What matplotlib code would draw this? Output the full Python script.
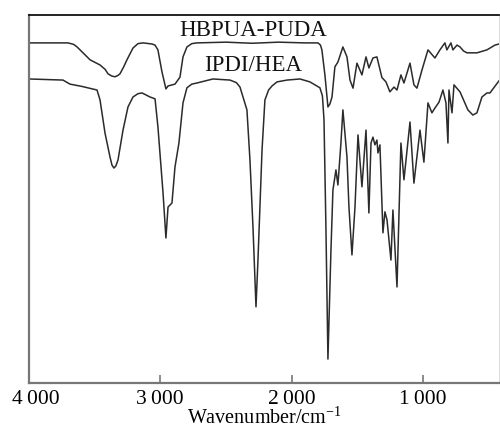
import matplotlib
matplotlib.use("Agg")
import matplotlib.pyplot as plt
import matplotlib.transforms as mtransforms

plt.rcParams['font.family'] = ['Liberation Serif', 'DejaVu Serif']
plt.rcParams['mathtext.fontset'] = 'custom'
plt.rcParams['mathtext.rm'] = 'Liberation Serif'
plt.rcParams['mathtext.it'] = 'Liberation Serif:italic'

# HBPUA-PUDA spectrum (wavenumber, transmittance-like units)
hb_wn = [4000, 3703, 3660, 3634, 3580, 3535, 3459, 3420, 3398, 3370, 3345, 3325,
         3307, 3280, 3254, 3208, 3170, 3132, 3063, 3040, 3018, 2987, 2957, 2941,
         2888, 2850, 2827, 2797, 2760, 2721, 2500, 2300, 2100, 1900, 1799, 1780,
         1769, 1746, 1723, 1708, 1692, 1670, 1647, 1609, 1578, 1555, 1532, 1502,
         1464, 1433, 1411, 1380, 1350, 1312, 1281, 1251, 1220, 1197, 1167, 1144,
         1098, 1068, 1045, 1007, 961, 908, 870, 832, 817, 786, 771, 740, 717, 690,
         664, 588, 512, 451, 420]
hb_t = [92.4, 92.4, 92.0, 91.3, 89.4, 87.8, 86.4, 85.2, 84.0, 83.4, 83.2, 83.5,
        84.0, 85.8, 87.8, 91.0, 92.2, 92.4, 92.1, 91.8, 90.5, 84.5, 79.9, 80.7,
        81.2, 83.1, 88.6, 91.3, 92.2, 92.4, 92.6, 92.3, 92.6, 92.4, 92.4, 91.8,
        90.5, 83.7, 75.0, 75.8, 77.7, 85.9, 87.2, 91.3, 88.6, 82.3, 80.1, 86.9,
        83.7, 88.6, 85.6, 88.3, 88.6, 83.0, 81.8, 79.1, 80.4, 79.6, 83.7, 81.5,
        86.9, 81.0, 80.1, 85.0, 90.5, 88.3, 90.5, 92.4, 90.5, 92.4, 90.5, 91.8,
        91.3, 90.2, 89.7, 89.7, 90.5, 91.8, 92.1]

# IPDI/HEA spectrum
ip_wn = [4000, 3741, 3688, 3600, 3482, 3459, 3421, 3383, 3368, 3353, 3338, 3322,
         3284, 3246, 3208, 3170, 3139, 3078, 3040, 3018, 2979, 2957, 2941, 2911,
         2888, 2858, 2827, 2797, 2760, 2721, 2599, 2469, 2420, 2393, 2340, 2317,
         2294, 2271, 2256, 2225, 2203, 2175, 2149, 2111, 2035, 1936, 1860, 1784,
         1765, 1753, 1738, 1723, 1700, 1685, 1662, 1647, 1624, 1609, 1578, 1563,
         1540, 1517, 1494, 1464, 1433, 1411, 1395, 1380, 1365, 1350, 1342, 1327,
         1304, 1289, 1273, 1243, 1228, 1197, 1167, 1144, 1098, 1068, 1022, 992,
         961, 931, 908, 877, 847, 824, 809, 801, 778, 763, 717, 657, 619, 588,
         550, 512, 489, 420]
ip_t = [82.6, 82.3, 81.2, 80.6, 79.6, 76.9, 67.9, 61.4, 59.2, 58.4, 59.0, 60.6,
        68.7, 75.0, 77.7, 78.6, 78.8, 77.7, 77.2, 69.6, 51.6, 39.4, 47.8, 48.9,
        58.7, 65.2, 76.1, 80.2, 81.2, 81.5, 82.6, 82.3, 81.6, 80.4, 74.2, 60.6,
        42.4, 20.7, 33.4, 63.3, 76.9, 79.6, 80.7, 81.8, 82.3, 82.6, 81.8, 80.2,
        78.0, 71.5, 41.6, 6.5, 36.1, 52.4, 57.9, 53.8, 65.2, 74.2, 61.4, 47.8,
        34.8, 47.8, 67.4, 53.3, 68.7, 46.2, 65.2, 66.8, 64.7, 66.0, 62.5, 64.7,
        40.8, 46.5, 44.3, 33.4, 47.0, 26.1, 65.2, 55.2, 70.9, 54.3, 68.7, 60.0,
        76.1, 73.4, 74.7, 76.3, 79.6, 76.1, 65.2, 79.6, 73.4, 81.0, 79.1, 74.2,
        72.8, 73.4, 77.7, 78.8, 78.8, 82.1]

tick_vals = [4000, 3000, 2000, 1000]
tick_labels = ['4\u2009000', '3\u2009000', '2\u2009000', '1\u2009000']
series_names = ['HBPUA-PUDA', 'IPDI/HEA']

fig = plt.figure(figsize=(5.0, 4.3), dpi=100)
ax = fig.add_axes([0.058, 0.1093, 0.94, 0.856])

line_color = '#2b2b2b'
for wn, t in ((hb_wn, hb_t), (ip_wn, ip_t)):
    ax.plot(wn, t, color=line_color, lw=1.1, solid_joinstyle='round')

ax.set_xlim(4000, 420)
ax.set_ylim(0, 100)

ax.set_xticks(tick_vals)
ax.set_xticklabels(tick_labels, fontsize=15.5)
ax.set_yticks([])
ax.tick_params(axis='x', direction='in', length=5.5, width=1.2, color='#777777', pad=5)

# shift the first tick label right as in the reference
offset = mtransforms.ScaledTranslation(7 / 100, 0, fig.dpi_scale_trans)
first = ax.get_xticklabels()[0]
first.set_transform(first.get_transform() + offset)

ax.spines['top'].set_color('#111111')
ax.spines['top'].set_linewidth(1.3)
ax.spines['bottom'].set_color('#777777')
ax.spines['bottom'].set_linewidth(1.6)
ax.spines['left'].set_color('#777777')
ax.spines['left'].set_linewidth(1.6)
ax.spines['right'].set_color('#dddddd')
ax.spines['right'].set_linewidth(0.8)

ax.set_xlabel('Wavenumber/cm$^{-1}$', fontsize=14.5)
ax.xaxis.set_label_coords(0.5, -0.124)
ax.xaxis.label.set_va('bottom')

ax.text(0.478, 0.958, series_names[0], transform=ax.transAxes, ha='center',
        va='center', fontsize=16.5, color='#111111')
ax.text(0.478, 0.862, series_names[1], transform=ax.transAxes, ha='center',
        va='center', fontsize=16.5, color='#111111')

fig.savefig('out.png', dpi=100)
